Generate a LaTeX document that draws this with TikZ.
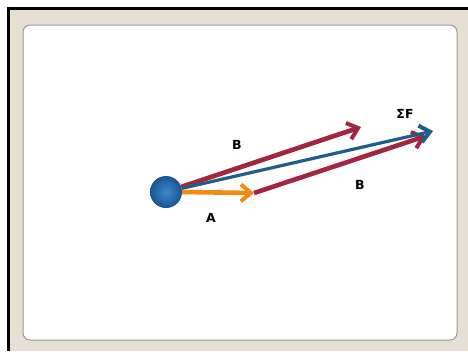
\documentclass[tikz,border=0pt]{standalone}
\usepackage{fontspec}
\setmainfont{DejaVu Sans}
\usetikzlibrary{arrows.meta}
\definecolor{panelbeige}{HTML}{E6E0D4}
\definecolor{vecred}{HTML}{A3263F}
\definecolor{vecblue}{HTML}{1F5E88}
\definecolor{vecorange}{HTML}{F38A12}
\definecolor{ballhi}{HTML}{3D88CC}
\definecolor{balllo}{HTML}{175593}

\begin{document}
\begin{tikzpicture}[x=1pt, y=-1pt, font=\bfseries\fontsize{12.5}{14}\selectfont,
    vec/.style={line width=4.6pt, -{Straight Barb[length=10pt,width=17pt,line width=4pt]}},
    lbl/.style={inner sep=0pt}]
    \useasboundingbox (0,0) rectangle (468,351);
    %% --- panel ---
    \fill[white] (0,0) rectangle (468,351);
    \fill[panelbeige] (8,8) rectangle (468,351);
    \draw[line width=3pt, black] (8.5,351) -- (8.5,8.5) -- (468,8.5);
    \draw[gray!80, line width=1pt, fill=white, rounded corners=7pt] (23,25) rectangle (457,340);
    %% --- body and tips ---
    \node[circle, minimum size=32pt, inner sep=0pt] (ball) at (166,192) {};
    \coordinate (atip) at (254,193);
    \coordinate (btip) at (361,127);
    \coordinate (ctip) at (426,136);
    \coordinate (ftip) at (433,131);
    %% --- vectors ---
    \draw[vec, vecred] (ball) -- (btip);
    \draw[vec, vecred] (atip) -- (ctip);
    \draw[vec, vecblue, line width=3.2pt] (ball) -- (ftip);
    \draw[vec, vecorange] (ball.east) -- (atip);
    \shade[inner color=ballhi, outer color=balllo, shading=radial] (ball.center) circle (16pt);
    %% --- labels ---
    \node[lbl] (lb1) at (237,145) {B};
    \node[lbl] (lb2) at (360,185) {B};
    \node[lbl] (la) at (211,218) {A};
    \node[lbl] (lf) at (405,114) {ΣF};
\end{tikzpicture}
\end{document}
